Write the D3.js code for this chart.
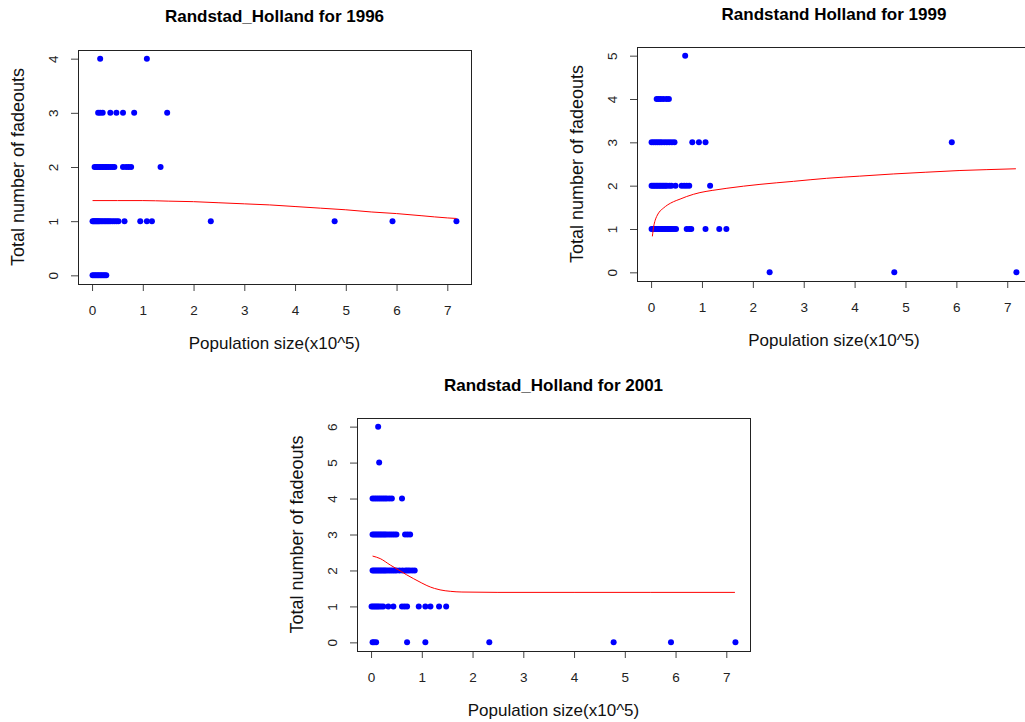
<!DOCTYPE html>
<html>
<head>
<meta charset="utf-8">
<script src="https://cdn.jsdelivr.net/npm/d3@7"></script>
<style>
  html, body { margin: 0; padding: 0; background: #fff; overflow: hidden; }
  svg { display: block; font-family: "Liberation Sans", Arial, sans-serif; }
</style>
</head>
<body>
<svg id="chart" width="1025" height="722"></svg>
<script>
// Observed points per year: [population size (x10^5), total number of fadeouts]
const points1996 = [
  [0.16, 4], [1.08, 4],
  [0.12, 3], [0.16, 3], [0.21, 3], [0.36, 3], [0.48, 3], [0.61, 3], [0.83, 3], [1.48, 3],
  [0.05, 2], [0.08, 2], [0.11, 2], [0.14, 2], [0.17, 2], [0.20, 2], [0.23, 2], [0.26, 2],
  [0.29, 2], [0.32, 2], [0.36, 2], [0.40, 2], [0.44, 2], [0.61, 2], [0.67, 2], [0.72, 2],
  [0.77, 2], [1.35, 2],
  [0.01, 1], [0.03, 1], [0.05, 1], [0.07, 1], [0.09, 1], [0.11, 1], [0.13, 1], [0.15, 1],
  [0.18, 1], [0.21, 1], [0.24, 1], [0.27, 1], [0.30, 1], [0.33, 1], [0.36, 1], [0.40, 1],
  [0.44, 1], [0.48, 1], [0.52, 1], [0.64, 1], [0.95, 1], [1.08, 1], [1.18, 1], [2.34, 1],
  [4.78, 1], [5.92, 1], [7.18, 1],
  [0.01, 0], [0.04, 0], [0.07, 0], [0.10, 0], [0.13, 0], [0.16, 0], [0.19, 0], [0.22, 0],
  [0.25, 0], [0.28, 0]
];

const points1999 = [
  [0.67, 5],
  [0.11, 4], [0.15, 4], [0.19, 4], [0.24, 4], [0.30, 4], [0.35, 4],
  [0.01, 3], [0.05, 3], [0.09, 3], [0.13, 3], [0.17, 3], [0.21, 3], [0.26, 3], [0.31, 3],
  [0.36, 3], [0.41, 3], [0.46, 3], [0.81, 3], [0.94, 3], [1.07, 3], [5.91, 3],
  [0.01, 2], [0.04, 2], [0.07, 2], [0.10, 2], [0.13, 2], [0.16, 2], [0.19, 2], [0.22, 2],
  [0.25, 2], [0.28, 2], [0.31, 2], [0.36, 2], [0.40, 2], [0.48, 2], [0.60, 2], [0.65, 2],
  [0.70, 2], [0.75, 2], [1.16, 2],
  [0.01, 1], [0.03, 1], [0.05, 1], [0.08, 1], [0.11, 1], [0.14, 1], [0.17, 1], [0.20, 1],
  [0.23, 1], [0.26, 1], [0.29, 1], [0.32, 1], [0.35, 1], [0.38, 1], [0.41, 1], [0.45, 1],
  [0.49, 1], [0.70, 1], [0.75, 1], [0.79, 1], [1.07, 1], [1.34, 1], [1.48, 1],
  [2.33, 0], [4.78, 0], [7.18, 0]
];

const points2001 = [
  [0.14, 6],
  [0.16, 5],
  [0.03, 4], [0.07, 4], [0.11, 4], [0.15, 4], [0.19, 4], [0.23, 4], [0.27, 4], [0.31, 4],
  [0.36, 4], [0.41, 4], [0.61, 4],
  [0.03, 3], [0.06, 3], [0.09, 3], [0.12, 3], [0.15, 3], [0.18, 3], [0.21, 3], [0.24, 3],
  [0.27, 3], [0.30, 3], [0.34, 3], [0.38, 3], [0.42, 3], [0.46, 3], [0.50, 3], [0.67, 3],
  [0.72, 3], [0.77, 3],
  [0.03, 2], [0.06, 2], [0.09, 2], [0.12, 2], [0.15, 2], [0.18, 2], [0.21, 2], [0.24, 2],
  [0.27, 2], [0.30, 2], [0.34, 2], [0.38, 2], [0.42, 2], [0.46, 2], [0.50, 2], [0.56, 2],
  [0.62, 2], [0.68, 2], [0.72, 2], [0.76, 2], [0.81, 2], [0.86, 2],
  [0.01, 1], [0.04, 1], [0.07, 1], [0.10, 1], [0.13, 1], [0.16, 1], [0.20, 1], [0.24, 1],
  [0.34, 1], [0.44, 1], [0.61, 1], [0.66, 1], [0.71, 1], [0.94, 1], [1.07, 1], [1.17, 1],
  [1.34, 1], [1.48, 1],
  [0.03, 0], [0.06, 0], [0.10, 0], [0.71, 0], [1.07, 0], [2.33, 0], [4.78, 0], [5.91, 0],
  [7.18, 0]
];

// Fitted curves: [population size (x10^5), fitted fadeouts]
const fit1996 = [
  [0.01, 1.38], [0.5, 1.38], [1.0, 1.38], [1.5, 1.37], [2.0, 1.36], [2.5, 1.34], [3.0, 1.32],
  [3.5, 1.30], [4.0, 1.27], [4.5, 1.24], [5.0, 1.21], [5.5, 1.17], [6.0, 1.14], [6.5, 1.10],
  [7.0, 1.06], [7.18, 1.05]
];

const fit1999 = [
  [0.025, 0.83], [0.05, 1.05], [0.08, 1.20], [0.11, 1.29], [0.16, 1.39], [0.24, 1.48],
  [0.33, 1.56], [0.44, 1.63], [0.57, 1.69], [0.70, 1.75], [0.96, 1.84], [1.2, 1.89],
  [1.49, 1.94], [2.14, 2.03], [2.8, 2.10], [3.45, 2.17], [4.1, 2.22], [4.76, 2.27],
  [5.4, 2.31], [6.07, 2.35], [6.6, 2.37], [7.17, 2.39]
];

const fit2001 = [
  [0.03, 2.40], [0.18, 2.33], [0.38, 2.15], [0.57, 1.99], [0.70, 1.88], [0.84, 1.77],
  [1.0, 1.65], [1.10, 1.58], [1.25, 1.50], [1.36, 1.46], [1.56, 1.42], [1.79, 1.40],
  [2.5, 1.39], [4.0, 1.39], [5.5, 1.39], [7.17, 1.39]
];

const titles = ["Randstad_Holland for 1996", "Randstand Holland for 1999", "Randstad_Holland for 2001"];
const xLabel = "Population size(x10^5)";
const yLabel = "Total number of fadeouts";
const xTicks = [0, 1, 2, 3, 4, 5, 6, 7];
const yTicks1996 = [0, 1, 2, 3, 4];
const yTicks1999 = [0, 1, 2, 3, 4, 5];
const yTicks2001 = [0, 1, 2, 3, 4, 5, 6];

// Plot frames (pixel boxes of each panel)
const panels = [
  { title: titles[0], pts: points1996, fit: fit1996, yTicks: yTicks1996,
    box: { left: 78, top: 50, right: 471, bottom: 284 }, titleY: 22 },
  { title: titles[1], pts: points1999, fit: fit1999, yTicks: yTicks1999,
    box: { left: 637, top: 47, right: 1031, bottom: 281 }, titleY: 19.5 },
  { title: titles[2], pts: points2001, fit: fit2001, yTicks: yTicks2001,
    box: { left: 357, top: 418, right: 750, bottom: 651 }, titleY: 391 }
];

const svg = d3.select("#chart");

// Pad a range by 4% on each side
function padded(lo, hi) {
  const p = (hi - lo) * 0.04;
  return [lo - p, hi + p];
}

panels.forEach(p => {
  const b = p.box;
  const xs = p.pts.map(d => d[0]);
  const ys = p.pts.map(d => d[1]);
  const x = d3.scaleLinear().domain(padded(d3.min(xs), d3.max(xs))).range([b.left, b.right]);
  const y = d3.scaleLinear().domain(padded(d3.min(ys), d3.max(ys))).range([b.bottom, b.top]);
  const cx = (b.left + b.right) / 2;
  const cy = (b.top + b.bottom) / 2;

  const g = svg.append("g");

  // x axis ticks
  const xAxis = g.append("g")
    .attr("transform", `translate(0,${b.bottom})`)
    .call(d3.axisBottom(x).tickValues(xTicks).tickSize(7).tickFormat(d3.format("d")));
  xAxis.select(".domain").remove();
  xAxis.selectAll(".tick line").attr("stroke", "#444");
  xAxis.selectAll(".tick text")
    .attr("y", 26).attr("dy", "0.35em")
    .attr("font-size", 13.5).attr("fill", "#222")
    .attr("font-family", "'Liberation Sans', Arial, sans-serif");

  // y axis ticks with rotated labels
  const yAxis = g.append("g")
    .attr("transform", `translate(${b.left},0)`)
    .call(d3.axisLeft(y).tickValues(p.yTicks).tickSize(7).tickFormat(d3.format("d")));
  yAxis.select(".domain").remove();
  yAxis.selectAll(".tick line").attr("stroke", "#444");
  yAxis.selectAll(".tick text")
    .attr("x", null).attr("dy", null)
    .attr("text-anchor", "middle")
    .attr("transform", "translate(-25,0) rotate(-90)")
    .attr("y", "0.35em")
    .attr("font-size", 13.5).attr("fill", "#222")
    .attr("font-family", "'Liberation Sans', Arial, sans-serif");

  // frame
  g.append("rect")
    .attr("x", b.left + 0.5).attr("y", b.top + 0.5)
    .attr("width", b.right - b.left).attr("height", b.bottom - b.top)
    .attr("fill", "none").attr("stroke", "#222").attr("stroke-width", 1);

  // points
  g.append("g").selectAll("circle")
    .data(p.pts)
    .join("circle")
    .attr("cx", d => x(d[0]))
    .attr("cy", d => y(d[1]))
    .attr("r", 3)
    .attr("fill", "#0000ff");

  // fitted curve
  g.append("path")
    .datum(p.fit)
    .attr("d", d3.line().x(d => x(d[0])).y(d => y(d[1])).curve(d3.curveMonotoneX))
    .attr("fill", "none")
    .attr("stroke", "#ff0000")
    .attr("stroke-width", 1);

  // title
  g.append("text")
    .attr("x", cx).attr("y", p.titleY)
    .attr("text-anchor", "middle")
    .attr("font-size", 17).attr("font-weight", "bold").attr("fill", "#000")
    .text(p.title);

  // axis titles
  g.append("text")
    .attr("x", cx).attr("y", b.bottom + 65)
    .attr("text-anchor", "middle")
    .attr("font-size", 17).attr("fill", "#111")
    .text(xLabel);

  g.append("text")
    .attr("transform", `translate(${b.left - 54},${cy}) rotate(-90)`)
    .attr("text-anchor", "middle")
    .attr("font-size", 18).attr("fill", "#111")
    .text(yLabel);
});
</script>
</body>
</html>
